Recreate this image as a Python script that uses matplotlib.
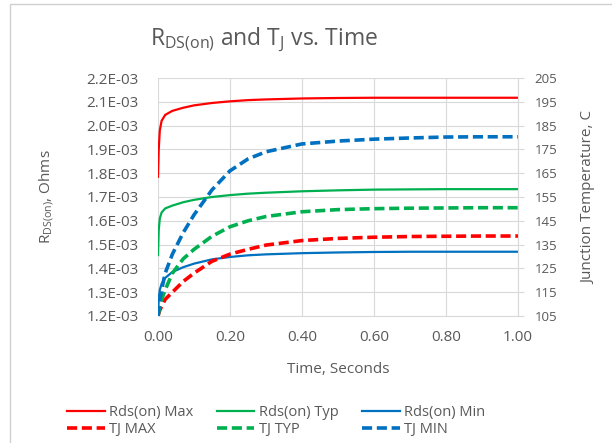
import numpy as np
import matplotlib
matplotlib.use("Agg")
import matplotlib.pyplot as plt
from matplotlib.ticker import FuncFormatter, MultipleLocator
from matplotlib.patches import Rectangle

plt.rcParams['font.family'] = ['Open Sans', 'DejaVu Sans']
plt.rcParams['mathtext.fontset'] = 'custom'
plt.rcParams['mathtext.rm'] = 'Open Sans'
plt.rcParams['mathtext.it'] = 'Open Sans'

# time in seconds
t = [0, 0.002, 0.005, 0.01, 0.02, 0.04, 0.07, 0.1, 0.15, 0.2, 0.25, 0.3,
     0.4, 0.5, 0.6, 0.7, 0.8, 0.9, 1.0]

# Rds(on) in ohms (x1e-3)
rds_max = [1.785, 1.90, 1.98, 2.02, 2.045, 2.062, 2.075, 2.085, 2.095, 2.102,
           2.107, 2.110, 2.114, 2.116, 2.117, 2.117, 2.117, 2.117, 2.117]
rds_typ = [1.456, 1.56, 1.61, 1.635, 1.652, 1.664, 1.678, 1.688, 1.700, 1.708,
           1.714, 1.718, 1.724, 1.728, 1.731, 1.732, 1.733, 1.733, 1.733]
rds_min = [1.20, 1.27, 1.31, 1.335, 1.36, 1.385, 1.405, 1.420, 1.438, 1.448,
           1.455, 1.459, 1.464, 1.467, 1.469, 1.470, 1.470, 1.470, 1.470]

# junction temperature in C
tj_max = [105, 106, 107.5, 109, 112, 115, 119.5, 123, 128, 131, 133, 134.8,
          136.7, 137.6, 138.1, 138.4, 138.5, 138.6, 138.6]
tj_typ = [105, 106.5, 109, 112, 116, 123, 129, 133, 138.5, 142.5, 145, 146.8,
          148.8, 149.7, 150.1, 150.3, 150.4, 150.5, 150.5]
tj_min = [105, 108, 112, 116, 123, 131, 140, 147.5, 158, 166, 171, 174,
          177.3, 178.5, 179.3, 179.8, 180.2, 180.3, 180.3]

tj_ticks = list(range(105, 206, 10))

red = "#FF0000"
green = "#00B050"
blue = "#0070C0"
gray = "#595959"

fig = plt.figure(figsize=(6.12, 4.43), dpi=100)
fig.patches.append(Rectangle((10/612, -0.1), 1.2, 1.1 - 4/443, transform=fig.transFigure,
                             fill=False, edgecolor="#D0D0D0", linewidth=1))
ax = fig.add_axes([158/612, 1 - 316/443, 360/612, 238/443])
ax2 = ax.twinx()

tms = np.array(t)
l1, = ax.plot(tms, np.array(rds_max) * 1e-3, color=red, lw=1.6, label="Rds(on) Max")
l2, = ax.plot(tms, np.array(rds_typ) * 1e-3, color=green, lw=1.6, label="Rds(on) Typ")
l3, = ax.plot(tms, np.array(rds_min) * 1e-3, color=blue, lw=1.6, label="Rds(on) Min")
d1, = ax2.plot(tms, tj_max, color=red, lw=2.6, dashes=(2.8, 1.3), label="TJ MAX")
d2, = ax2.plot(tms, tj_typ, color=green, lw=2.6, dashes=(2.8, 1.3), label="TJ TYP")
d3, = ax2.plot(tms, tj_min, color=blue, lw=2.6, dashes=(2.8, 1.3), label="TJ MIN")

ax.set_xlim(0, 1.0)
ax.set_ylim(1.2e-3, 2.2e-3)
ax2.set_ylim(105, 205)
ax.xaxis.set_major_locator(MultipleLocator(0.2))
ax.yaxis.set_major_locator(MultipleLocator(0.1e-3))
ax2.set_yticks(tj_ticks)
ax.xaxis.set_major_formatter(FuncFormatter(lambda v, p: f"{v:.2f}"))
ax.yaxis.set_major_formatter(FuncFormatter(lambda v, p: f"{v:.1E}"))

ax.grid(True, color="#D9D9D9", lw=0.8)
ax.set_axisbelow(True)
for a in (ax, ax2):
    for s in a.spines.values():
        s.set_visible(False)
ax.spines['bottom'].set_visible(True)
ax.spines['bottom'].set_color("#D9D9D9")
ax2.spines['right'].set_visible(True)
ax2.spines['right'].set_color("#D9D9D9")

ax.tick_params(axis='x', length=0, pad=10, labelsize=11, labelcolor=gray)
ax.tick_params(axis='y', length=0, pad=14, labelsize=11, labelcolor=gray)
ax2.tick_params(axis='y', length=4, color="#D9D9D9", pad=8, labelsize=9.5, labelcolor=gray)

ax.set_xlabel("Time, Seconds", fontsize=11, color=gray, labelpad=12)
ax.set_ylabel(r"R$_{\mathregular{DS(on)}}$, Ohms", fontsize=11, color=gray, labelpad=22)
ax2.set_ylabel("Junction Temperature, C", fontsize=11, color=gray, labelpad=17)

fig.text(264/612, 1 - 40/443, r"R$_{\mathregular{DS(on)}}$ and T$_{\mathregular{J}}$ vs. Time",
         ha="center", va="center", fontsize=16.5, color=gray)

fig.legend(handles=[l1, d1, l2, d2, l3, d3], ncol=3, loc="center",
           bbox_to_anchor=(276/612, 1 - 421/443), frameon=False, fontsize=10.5,
           labelcolor=gray, handlelength=2.6, handletextpad=0.3, columnspacing=1.6,
           labelspacing=0.15)

fig.savefig("out.png", dpi=100)
